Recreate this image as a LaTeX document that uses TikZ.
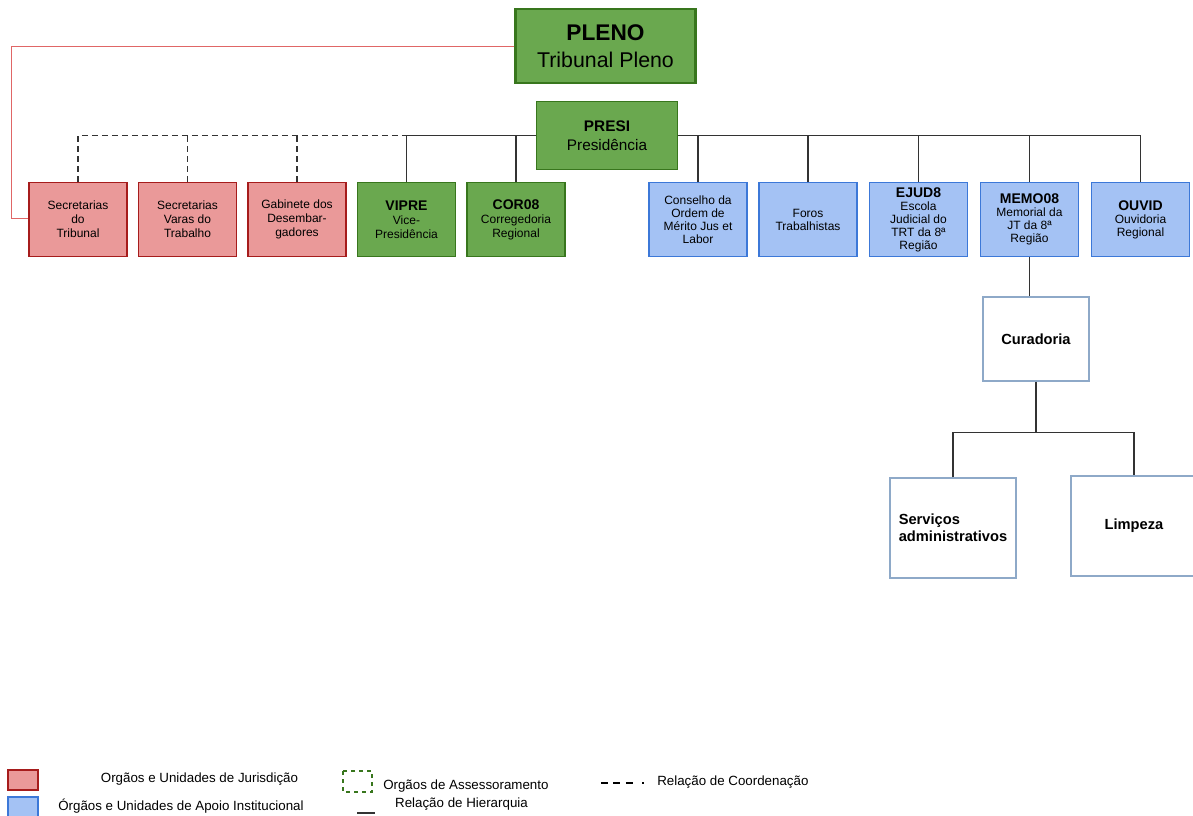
\documentclass[tikz,border=0pt]{standalone}
\usepackage{fontspec}
\setmainfont{Liberation Sans}

\definecolor{verde}{HTML}{6AA84F}
\definecolor{verdeborda}{HTML}{38761D}
\definecolor{jurfill}{HTML}{EA9999}
\definecolor{jurline}{HTML}{A61C1C}
\definecolor{apoiofill}{HTML}{A4C2F4}
\definecolor{apoioline}{HTML}{3C78D8}
\definecolor{curline}{HTML}{8EA9C8}
\definecolor{linha}{HTML}{333333}
\definecolor{vermelho}{HTML}{E06666}

\tikzset{
  box/.style={draw, line width=0.9pt, minimum width=73.5pt, minimum height=56pt,
    inner sep=1pt, align=center, font=\fontsize{9}{10.5}\selectfont},
  jur/.style={box, fill=jurfill, draw=jurline},
  dir/.style={box, fill=verde, draw=verdeborda},
  apoio/.style={box, fill=apoiofill, draw=apoioline, font=\fontsize{9}{9.8}\selectfont},
  sub/.style={draw=curline, fill=white, line width=0.9pt, align=left,
    font=\bfseries\fontsize{11}{13}\selectfont},
  hier/.style={draw=linha, line width=1.3pt},
  coord/.style={hier, dash pattern=on 4.5pt off 3pt},
  legtxt/.style={font=\fontsize{10}{12}\selectfont, inner sep=0pt}
}
\newcommand{\titulo}[1]{{\bfseries\fontsize{10.5}{12}\selectfont #1}}

\begin{document}
\begin{tikzpicture}[x=0.75pt,y=-0.75pt]
\useasboundingbox (0,0) rectangle (1193,815);

% topo
\node[dir, line width=1.6pt, minimum width=135pt, minimum height=55pt,
  font=\fontsize{16}{20}\selectfont] (pleno) at (605.5,46)
  {{\bfseries\fontsize{17}{20}\selectfont PLENO}\\Tribunal Pleno};
\node[dir, minimum width=106pt, minimum height=51pt,
  font=\fontsize{11.5}{14}\selectfont] (presi) at (607,135.5)
  {{\bfseries PRESI}\\Presidência};

% linha de unidades
\node[jur] (secT) at (78,219.5) {Secretarias\\do\\Tribunal};
\node[jur] (secV) at (187.5,219.5) {Secretarias\\Varas do\\Trabalho};
\node[jur] (gab) at (297,219.5) {Gabinete dos\\Desembar-\\gadores};
\node[dir] (vipre) at (406.5,219.5) {\titulo{VIPRE}\\Vice-\\Presidência};
\node[dir] (cor) at (516,219.5) {\titulo{COR08}\\Corregedoria\\Regional};
\node[apoio] (cons) at (698,219.5) {Conselho da\\Ordem de\\Mérito Jus et\\Labor};
\node[apoio] (foros) at (808,219.5) {Foros\\Trabalhistas};
\node[apoio] (ejud) at (918.5,219.5) {\titulo{EJUD8}\\Escola\\Judicial do\\TRT da 8ª\\Região};
\node[apoio] (memo) at (1029.5,219.5) {\titulo{MEMO08}\\Memorial da\\JT da 8ª\\Região};
\node[apoio] (ouvid) at (1140.5,219.5) {\titulo{OUVID}\\Ouvidoria\\Regional};

% memorial
\node[sub, align=center, minimum width=79.5pt, minimum height=63pt] (cura) at (1036,339) {Curadoria};
\node[sub, minimum width=94.5pt, minimum height=75pt] (serv) at (953,528) {Serviços\\administrativos};
\node[sub, minimum width=94.5pt, minimum height=75pt] (limp) at (1134,526) {Limpeza};

% ligacoes
\draw[vermelho, line width=0.7pt] (pleno.west) -| (11,218) coordinate (redcorner) -- (secT.west |- redcorner);
\draw[coord] (secT.north) |- (presi.west);
\draw[coord] (secV.north) -- (secV.north |- presi.west);
\draw[coord] (gab.north) -- (gab.north |- presi.west);
\draw[hier] (vipre.north) |- (presi.west);
\draw[hier] (cor.north) -- (cor.north |- presi.west);
\draw[hier] (presi.east) -| (ouvid.north);
\foreach \n in {cons,foros,ejud,memo}
  \draw[hier] (\n.north) -- (\n.north |- presi.east);
\draw[hier] (memo.south) -- (memo.south |- cura.north);
\draw[hier] (cura.south) -- ++(0,51) coordinate (split);
\draw[hier] (serv.north) |- (split) -| (limp.north);

% legenda
\draw[jurline, fill=jurfill, line width=0.8pt] (8,770) rectangle (38,790);
\node[legtxt] (legjur) at (199.5,779) {Orgãos e Unidades de Jurisdição};
\draw[apoioline, fill=apoiofill, line width=0.8pt] (8,797) rectangle (38,818);
\node[legtxt] (legapoio) at (181,806) {Órgãos e Unidades de Apoio Institucional};
\draw[verdeborda, dashed, line width=0.8pt] (343,771) rectangle (372,792);
\node[legtxt, anchor=west] (legass) at (383,786) {Orgãos de Assessoramento};
\draw[hier] (357,813) -- (375,813);
\node[legtxt] (leghier) at (461.5,804) {Relação de Hierarquia};
\draw[draw=black, line width=1.8pt,
  dash pattern=on 5.25pt off 4.1pt on 5.25pt off 4.1pt on 5.25pt off 7.1pt on 1.1pt off 10pt]
  (601,783) -- (651,783);
\node[legtxt, anchor=west] (legcoord) at (657,782) {Relação de Coordenação};
\end{tikzpicture}
\end{document}
